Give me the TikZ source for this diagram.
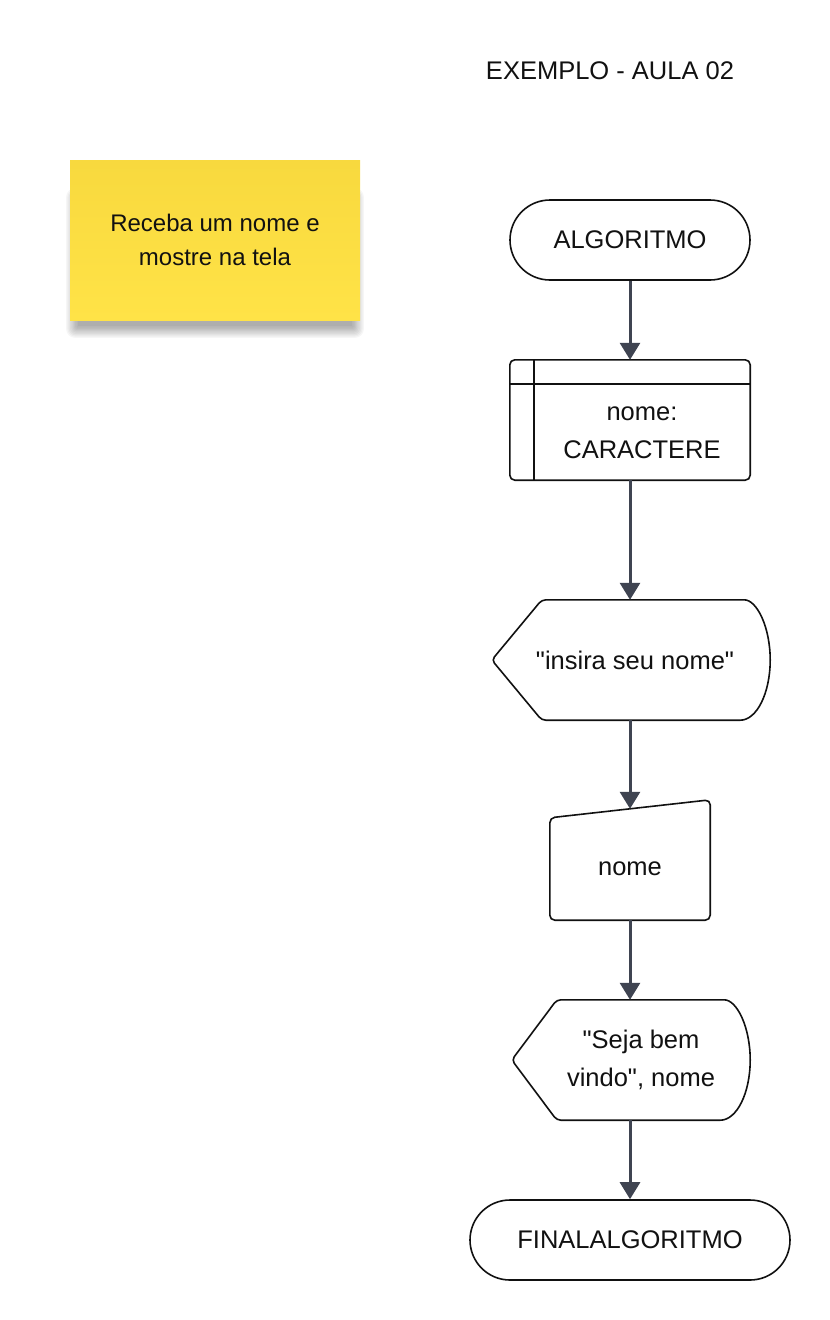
\documentclass[tikz,border=0pt]{standalone}
\usepackage{fontspec}
\setmainfont{Liberation Sans}[Ligatures=TeXOff]
\usetikzlibrary{arrows.meta,calc}
\definecolor{arrowc}{HTML}{3F4451}
\definecolor{stickytop}{HTML}{F8D93E}
\definecolor{stickybot}{HTML}{FFE347}
\definecolor{ink}{HTML}{111111}
\pgfdeclarelayer{background}
\pgfsetlayers{background,main}
\begin{document}
\begin{tikzpicture}[x=1pt,y=-1pt,
  flow/.style={font=\fontsize{25.5}{38}\selectfont, text=ink, align=center},
  outline/.style={draw=ink, line width=1.6pt, fill=white},
  term/.style={flow, outline, rounded corners=40pt, minimum width=240pt, minimum height=80pt, inner sep=0pt},
  hold/.style={draw=none, inner sep=0pt},
  conn/.style={draw=arrowc, line width=3pt, -{Triangle[width=20pt,length=17pt]}},
  sticky/.style={font=\fontsize{24}{34}\selectfont, text=ink, align=center,
    minimum width=290pt, minimum height=160pt, inner sep=0pt,
    top color=stickytop, bottom color=stickybot},
  shadowlayer/.style={fill=black, opacity=0.035},
]
\useasboundingbox (0,0) rectangle (830,1320);

% title and note
\node[flow] (title) at (610,71) {EXEMPLO - AULA 02};
\node[sticky] (note) at (215,240) {Receba um nome e\\mostre na tela};

% nodes
\node[term] (start) at (630,240) {ALGORITMO};
\node[hold, minimum width=240pt, minimum height=120pt,
      label={[flow, xshift=12pt, yshift=-13pt]center:{nome:\\CARACTERE}}] (decl) at (630,420) {};
\node[hold, minimum width=278pt, minimum height=120pt,
      label={[flow, xshift=4pt]center:{"insira seu nome"}}] (d1) at (631,660) {};
\node[hold, minimum width=160pt, minimum height=120pt,
      label={[flow, yshift=-9pt]center:{nome}}] (mi) at (630,860) {};
\coordinate (mitop) at ($(mi.north)+(0,9)$);
\node[hold, minimum width=238pt, minimum height=120pt,
      label={[flow, xshift=10pt]center:{"Seja bem\\vindo", nome}}] (d2) at (631,1060) {};
\node[term, minimum width=320pt] (end) at (630,1240) {FINALALGORITMO};

% shapes
\begin{pgfonlayer}{background}
  \fill[white] (0,0) rectangle (830,1320);
  % soft shadow of the note
  \foreach \i in {0,...,9} {
    \fill[shadowlayer, rounded corners=\i pt]
      ($(note.north west)+(8-1.3*\i,40-1.3*\i)$) rectangle ($(note.south east)+(-8+1.3*\i,6+1.3*\i)$);
  }
  % internal storage
  \draw[outline, rounded corners=5pt] (decl.north west) rectangle (decl.south east);
  \draw[draw=ink, line width=1.6pt] ($(decl.north west)+(24,0)$) -- ($(decl.south west)+(24,0)$);
  \draw[draw=ink, line width=1.6pt] ($(decl.north west)+(0,24)$) -- ($(decl.north east)+(0,24)$);
  % display 1
  \draw[outline, rounded corners=4pt] (d1.west) -- ($(d1.north west)+(50,0)$) -- ($(d1.north east)+(-30,0)$)
     [sharp corners] .. controls ($(d1.north east)+(-13.4,0)$) and ($(d1.east)+(0,-33)$) .. (d1.east)
     .. controls ($(d1.east)+(0,33)$) and ($(d1.south east)+(-13.4,0)$) .. ($(d1.south east)+(-30,0)$)
     [rounded corners=4pt] -- ($(d1.south west)+(50,0)$) -- cycle;
  % manual input
  \draw[outline, rounded corners=5pt] ($(mi.north west)+(0,18)$) -- (mi.north east) -- (mi.south east) -- (mi.south west) -- cycle;
  % display 2
  \draw[outline, rounded corners=4pt] (d2.west) -- ($(d2.north west)+(45,0)$) -- ($(d2.north east)+(-30,0)$)
     [sharp corners] .. controls ($(d2.north east)+(-13.4,0)$) and ($(d2.east)+(0,-33)$) .. (d2.east)
     .. controls ($(d2.east)+(0,33)$) and ($(d2.south east)+(-13.4,0)$) .. ($(d2.south east)+(-30,0)$)
     [rounded corners=4pt] -- ($(d2.south west)+(45,0)$) -- cycle;
\end{pgfonlayer}

% connectors
\draw[conn] (start.south) -- (decl.north);
\draw[conn] (decl.south) -- (decl.south |- d1.north);
\draw[conn] (decl.south |- d1.south) -- (mitop);
\draw[conn] (mi.south) -- (mi.south |- d2.north);
\draw[conn] (mi.south |- d2.south) -- (end.north);
\end{tikzpicture}
\end{document}
